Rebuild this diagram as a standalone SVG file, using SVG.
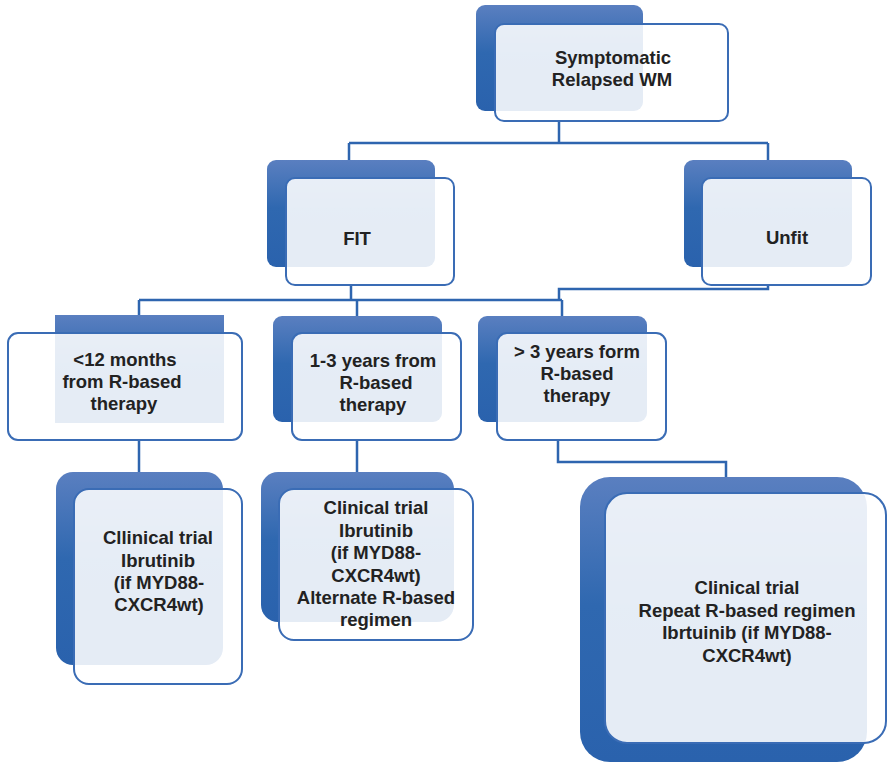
<svg xmlns="http://www.w3.org/2000/svg" width="887" height="763" viewBox="0 0 887 763">
<defs>
<linearGradient id="bg" x1="0" y1="0" x2="0" y2="1">
<stop offset="0" stop-color="#5a7fc0"/>
<stop offset="0.45" stop-color="#2f68b0"/>
<stop offset="1" stop-color="#2a62ad"/>
</linearGradient>
<style>
.back{fill:url(#bg);}
.front{fill:#ffffff;fill-opacity:0.88;stroke:#3a6cb5;stroke-width:2;}
.conn{fill:none;stroke:#2e65af;stroke-width:2.5;}
text{font-family:"Liberation Sans",Arial,sans-serif;font-weight:bold;font-size:18.5px;fill:#222222;text-anchor:middle;}
</style>
</defs>
<rect width="887" height="763" fill="#ffffff"/>
<g id="connectors">
<path class="conn" d="M559,121 V143 M349,143 H768 M349,143 V160 M768,143 V160"/>
<path class="conn" d="M351,284 V300 M139,300 H562 M139,300 V315 M357,300 V316 M562,300 V316"/>
<path class="conn" d="M768,284 V289 H559 V300"/>
<path class="conn" d="M139,440 V472 M357,440 V472"/>
<path class="conn" d="M558,440 V462 H726 V477"/>
</g>
<g id="node-symptomatic">
<rect class="back" x="476" y="5" width="167" height="106" rx="9"/>
<rect class="front" x="495" y="24" width="233" height="97" rx="9"/>
<text x="613" y="64">Symptomatic</text>
<text x="612" y="86">Relapsed WM</text>
</g>
<g id="node-fit">
<rect class="back" x="267" y="160" width="168" height="107" rx="9"/>
<rect class="front" x="286" y="178" width="168" height="107" rx="9"/>
<text x="357" y="245">FIT</text>
</g>
<g id="node-unfit">
<rect class="back" x="684" y="160" width="168" height="107" rx="9"/>
<rect class="front" x="702" y="178" width="169" height="107" rx="9"/>
<text x="787" y="244">Unfit</text>
</g>
<g id="node-lt12">
<rect class="back" x="55" y="315" width="169" height="108"/>
<rect class="front" x="8" y="333" width="234" height="107" rx="10"/>
<text x="125" y="366">&lt;12 months</text>
<text x="122" y="388">from R-based</text>
<text x="124" y="410">therapy</text>
</g>
<g id="node-1to3">
<rect class="back" x="273" y="316" width="169" height="106" rx="9"/>
<rect class="front" x="292" y="333" width="169" height="107" rx="10"/>
<text x="373" y="367">1-3 years from</text>
<text x="376" y="389">R-based</text>
<text x="373" y="411">therapy</text>
</g>
<g id="node-gt3">
<rect class="back" x="478" y="316" width="169" height="106" rx="9"/>
<rect class="front" x="497" y="333" width="169" height="107" rx="10"/>
<text x="577" y="358">&gt; 3 years form</text>
<text x="577" y="380">R-based</text>
<text x="577" y="402">therapy</text>
</g>
<g id="node-clinical1">
<rect class="back" x="56" y="472" width="167" height="193" rx="17"/>
<rect class="front" x="74" y="489" width="168" height="195" rx="15"/>
<text x="158" y="544">Cllinical trial</text>
<text x="158" y="567">Ibrutinib</text>
<text x="159" y="589">(if MYD88-</text>
<text x="159" y="611">CXCR4wt)</text>
</g>
<g id="node-clinical2">
<rect class="back" x="261" y="472" width="193" height="150" rx="17"/>
<rect class="front" x="279" y="489" width="194" height="151" rx="15"/>
<text x="376" y="514">Clinical trial</text>
<text x="376" y="537">Ibrutinib</text>
<text x="376" y="559">(if MYD88-</text>
<text x="376" y="582">CXCR4wt)</text>
<text x="376" y="604">Alternate R-based</text>
<text x="376" y="626">regimen</text>
</g>
<g id="node-clinical3">
<rect class="back" x="580" y="477" width="287" height="285" rx="30"/>
<rect class="front" x="605" y="493" width="281" height="250" rx="22"/>
<text x="747" y="594">Clinical trial</text>
<text x="747" y="617">Repeat R-based regimen</text>
<text x="747" y="639">Ibrtuinib (if MYD88-</text>
<text x="747" y="662">CXCR4wt)</text>
</g>
</svg>
